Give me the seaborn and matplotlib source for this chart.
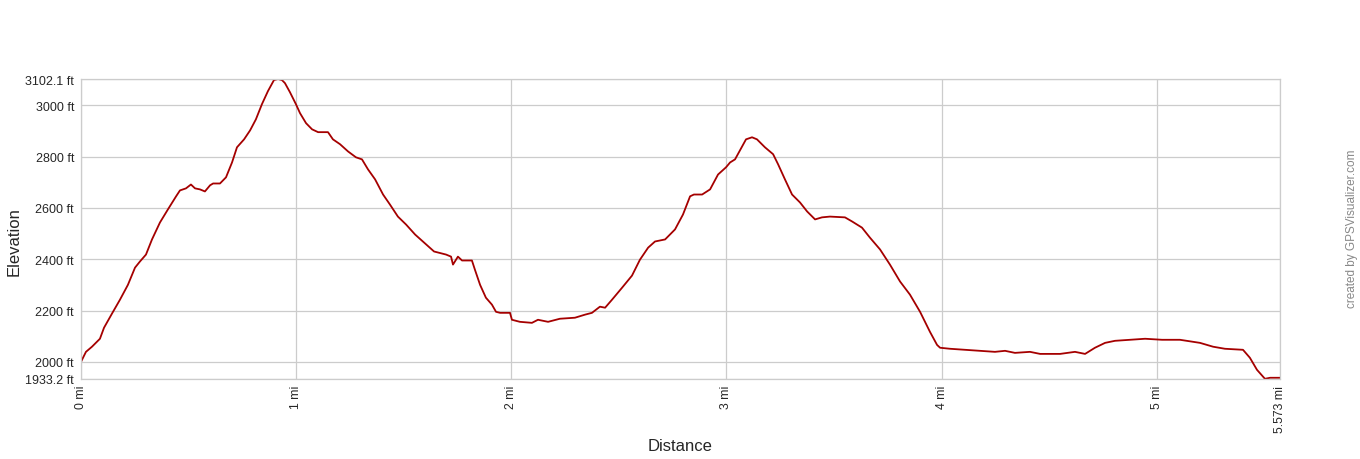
import numpy as np
import pandas as pd
import seaborn as sns
import matplotlib.pyplot as plt

# elevation profile (miles, feet)
distance_mi = [0.000, 0.023, 0.051, 0.088, 0.107, 0.144, 0.181, 0.218, 0.251, 0.274,
               0.302, 0.330, 0.367, 0.404, 0.442, 0.460, 0.488, 0.511, 0.530, 0.553,
               0.576, 0.600, 0.614, 0.646, 0.674, 0.702, 0.725, 0.758, 0.786, 0.813,
               0.841, 0.869, 0.897, 0.916, 0.934, 0.948, 0.971, 0.999, 1.018, 1.046,
               1.074, 1.102, 1.148, 1.171, 1.204, 1.241, 1.278, 1.306, 1.334, 1.367,
               1.404, 1.436, 1.473, 1.511, 1.553, 1.594, 1.641, 1.697, 1.720, 1.729,
               1.752, 1.771, 1.817, 1.831, 1.855, 1.882, 1.910, 1.929, 1.948, 1.994,
               2.003, 2.040, 2.096, 2.124, 2.171, 2.226, 2.296, 2.343, 2.375, 2.412,
               2.436, 2.468, 2.515, 2.561, 2.598, 2.636, 2.668, 2.715, 2.761, 2.798,
               2.831, 2.849, 2.887, 2.924, 2.961, 2.998, 3.017, 3.040, 3.063, 3.091,
               3.119, 3.142, 3.179, 3.217, 3.240, 3.272, 3.305, 3.342, 3.375, 3.412,
               3.444, 3.481, 3.551, 3.584, 3.630, 3.667, 3.714, 3.760, 3.807, 3.853,
               3.900, 3.946, 3.979, 3.993, 4.039, 4.109, 4.179, 4.248, 4.295, 4.341,
               4.411, 4.458, 4.551, 4.620, 4.667, 4.713, 4.760, 4.806, 4.876, 4.946,
               5.025, 5.108, 5.201, 5.262, 5.317, 5.401, 5.433, 5.466, 5.503, 5.527,
               5.573]
elevation_ft = [2000, 2039, 2059, 2090, 2133, 2188, 2242, 2300, 2367, 2391,
                2418, 2477, 2543, 2594, 2645, 2668, 2676, 2691, 2676, 2672,
                2664, 2688, 2695, 2695, 2719, 2777, 2836, 2867, 2902, 2945,
                3004, 3055, 3098, 3102, 3098, 3086, 3051, 3004, 2969, 2930,
                2906, 2895, 2895, 2867, 2848, 2820, 2797, 2789, 2750, 2711,
                2652, 2613, 2566, 2535, 2496, 2465, 2430, 2418, 2410, 2379,
                2410, 2395, 2395, 2359, 2300, 2250, 2223, 2195, 2191, 2191,
                2164, 2156, 2152, 2164, 2156, 2168, 2172, 2184, 2191, 2215,
                2211, 2242, 2289, 2336, 2398, 2445, 2469, 2477, 2516, 2574,
                2645, 2652, 2652, 2672, 2730, 2758, 2777, 2789, 2824, 2867,
                2875, 2867, 2836, 2809, 2770, 2711, 2652, 2621, 2586, 2555,
                2563, 2566, 2563, 2547, 2523, 2484, 2438, 2379, 2313, 2262,
                2195, 2117, 2066, 2055, 2051, 2047, 2043, 2039, 2043, 2035,
                2039, 2031, 2031, 2039, 2031, 2055, 2074, 2082, 2086, 2090,
                2086, 2086, 2074, 2059, 2051, 2047, 2016, 1969, 1934, 1938,
                1938]

y_ticks = [1933.2, 2000, 2200, 2400, 2600, 2800, 3000, 3102.1]
y_labels = ["1933.2 ft", "2000 ft", "2200 ft", "2400 ft", "2600 ft", "2800 ft", "3000 ft", "3102.1 ft"]
x_ticks = [0, 1, 2, 3, 4, 5, 5.573]
x_labels = ["0 mi", "1 mi", "2 mi", "3 mi", "4 mi", "5 mi", "5.573 mi"]

sns.set_style("white")
plt.rcParams['font.family'] = ['Liberation Sans', 'DejaVu Sans']

df = pd.DataFrame({"Distance": distance_mi, "Elevation": elevation_ft})

fig = plt.figure(figsize=(13.6, 4.6), dpi=100)
ax = fig.add_axes([81 / 1360, 80 / 460, 1199 / 1360, 300 / 460])
sns.lineplot(data=df, x="Distance", y="Elevation", color="#a50000", linewidth=1.3, ax=ax)

ax.set_xlim(0, 5.573)
ax.set_ylim(1933.2, 3102.1)
ax.set_xticks(x_ticks)
ax.set_xticklabels(x_labels, rotation=90, fontsize=8.8)
ax.set_yticks(y_ticks)
ax.set_yticklabels(y_labels, fontsize=9)
ax.tick_params(axis="y", length=0, pad=5)
ax.tick_params(axis="x", length=0, pad=4)
ax.grid(True, color="#cccccc", linewidth=0.9)
ax.set_axisbelow(True)
for s in ax.spines.values():
    s.set_color("#cccccc")
    s.set_linewidth(0.9)

# axis titles placed at fixed spots like the reference
ax.set_xlabel("")
ax.set_ylabel("")
fig.text(680 / 1360, 1 - 447 / 460, "Distance", fontsize=12, ha="center", va="center")
fig.text(14 / 1360, 1 - 242 / 460, "Elevation", fontsize=12, rotation=90, ha="center", va="center")
fig.text(1352 / 1360, 1 - 229 / 460, "created by GPSVisualizer.com", rotation=90,
         fontsize=8.5, color="#888888", ha="center", va="center")

fig.savefig("out.png", dpi=100)
